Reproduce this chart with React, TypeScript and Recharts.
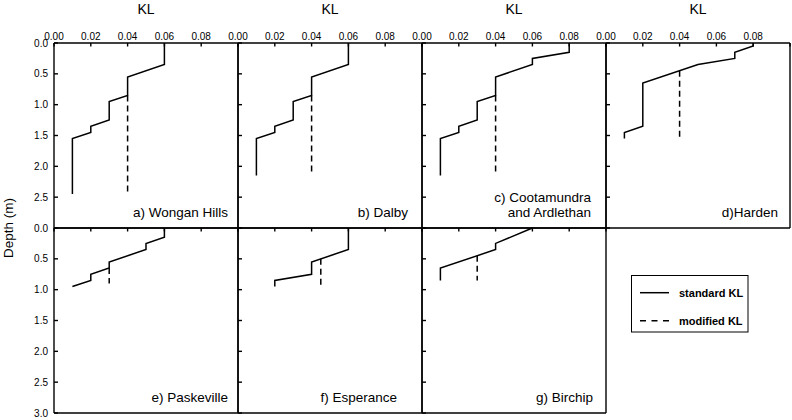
import { Label, Legend, Scatter, ScatterChart, XAxis, YAxis } from "recharts";

// KL vs depth profiles for seven sites, one small panel per site (2 x 4 grid).
// Each profile: KL values and the depths (m) they sit at, in drawing order.

const wonganKL = [0.06, 0.06, 0.04, 0.04, 0.03, 0.03, 0.02, 0.02, 0.01, 0.01];
const wonganDepth = [0, 0.35, 0.55, 0.85, 0.95, 1.25, 1.35, 1.45, 1.55, 2.45];
const wonganModKL = [0.04, 0.04];
const wonganModDepth = [0.85, 2.45];

const dalbyKL = [0.06, 0.06, 0.04, 0.04, 0.03, 0.03, 0.02, 0.02, 0.01, 0.01];
const dalbyDepth = [0, 0.35, 0.55, 0.85, 0.95, 1.25, 1.35, 1.45, 1.55, 2.15];
const dalbyModKL = [0.04, 0.04];
const dalbyModDepth = [0.85, 2.15];

const cootaKL = [0.08, 0.08, 0.06, 0.06, 0.04, 0.04, 0.03, 0.03, 0.02, 0.02, 0.01, 0.01];
const cootaDepth = [0, 0.15, 0.25, 0.35, 0.55, 0.85, 0.95, 1.25, 1.35, 1.45, 1.55, 2.15];
const cootaModKL = [0.04, 0.04];
const cootaModDepth = [0.85, 2.15];

const hardenKL = [0.08, 0.08, 0.07, 0.07, 0.05, 0.02, 0.02, 0.01, 0.01];
const hardenDepth = [0, 0.05, 0.15, 0.25, 0.35, 0.65, 1.35, 1.45, 1.55];
const hardenModKL = [0.04, 0.04];
const hardenModDepth = [0.45, 1.55];

const paskeKL = [0.06, 0.06, 0.05, 0.05, 0.03, 0.03, 0.02, 0.02, 0.01];
const paskeDepth = [0, 0.15, 0.25, 0.35, 0.55, 0.65, 0.75, 0.85, 0.95];
const paskeModKL = [0.03, 0.03];
const paskeModDepth = [0.65, 0.9];

const esperKL = [0.06, 0.06, 0.04, 0.04, 0.02, 0.02];
const esperDepth = [0, 0.35, 0.55, 0.75, 0.85, 0.95];
const esperModKL = [0.045, 0.045];
const esperModDepth = [0.5, 0.95];

const birchKL = [0.06, 0.04, 0.04, 0.01, 0.01];
const birchDepth = [0, 0.25, 0.35, 0.65, 0.85];
const birchModKL = [0.03, 0.03];
const birchModDepth = [0.45, 0.85];

const klTicks = [0, 0.02, 0.04, 0.06, 0.08, 0.1];
const depthTicks = [0, 0.5, 1, 1.5, 2, 2.5, 3];
const seriesNames = ["standard KL", "modified KL"];

const FONT = '"Liberation Sans", Arial, Helvetica, sans-serif';
const W = 792;
const H = 420;
const COL_X = [54, 238, 422, 606];
const ROW_Y = [43, 228];
const PW = 184;
const PH = 185;
const axisStroke = { stroke: "#000", strokeWidth: 1.4 };

const pts = (kl: number[], depth: number[]) => kl.map((k, i) => ({ kl: k, depth: depth[i] }));

type PanelDef = {
  title: string[];
  col: number;
  row: number;
  std: { kl: number; depth: number }[];
  mod: { kl: number; depth: number }[];
  dx: number; // title offset from panel right edge
  rightTicks?: boolean;
  legend?: boolean;
};

const panels: PanelDef[] = [
  { title: ["a) Wongan Hills"], col: 0, row: 0, std: pts(wonganKL, wonganDepth), mod: pts(wonganModKL, wonganModDepth), dx: 10 },
  { title: ["b) Dalby"], col: 1, row: 0, std: pts(dalbyKL, dalbyDepth), mod: pts(dalbyModKL, dalbyModDepth), dx: 14 },
  { title: ["c) Cootamundra", "and Ardlethan"], col: 2, row: 0, std: pts(cootaKL, cootaDepth), mod: pts(cootaModKL, cootaModDepth), dx: 15 },
  { title: ["d)Harden"], col: 3, row: 0, std: pts(hardenKL, hardenDepth), mod: pts(hardenModKL, hardenModDepth), dx: 12 },
  { title: ["e) Paskeville"], col: 0, row: 1, std: pts(paskeKL, paskeDepth), mod: pts(paskeModKL, paskeModDepth), dx: 10 },
  { title: ["f) Esperance"], col: 1, row: 1, std: pts(esperKL, esperDepth), mod: pts(esperModKL, esperModDepth), dx: 25 },
  { title: ["g) Birchip"], col: 2, row: 1, std: pts(birchKL, birchDepth), mod: pts(birchModKL, birchModDepth), dx: 13, rightTicks: true, legend: true },
];

const renderLegend = (props: any) => {
  const items = [...(props.payload ?? [])].sort(
    (a: any, b: any) => seriesNames.indexOf(a.value) - seriesNames.indexOf(b.value)
  );
  return (
    <svg width={118} height={58} style={{ display: "block", fontFamily: FONT }}>
      <rect x={0.5} y={0.5} width={116.5} height={56.5} fill="#fff" stroke="#000" strokeWidth={1} />
      {items.map((it: any, i: number) => (
        <g key={i}>
          <line
            x1={9}
            x2={38}
            y1={17.7 + i * 28}
            y2={17.7 + i * 28}
            stroke="#000"
            strokeWidth={1.5}
            strokeDasharray={it.value === "modified KL" ? "6 5.5" : undefined}
          />
          <text x={48} y={21.7 + i * 28.3} fontSize={11} fontWeight="bold" fill="#000">
            {it.value}
          </text>
        </g>
      ))}
    </svg>
  );
};

function Panel({ p }: { p: PanelDef }) {
  const x0 = COL_X[p.col];
  const y0 = ROW_Y[p.row];
  const top = p.row === 0;
  const first = p.col === 0;
  const margin = { left: x0 - 1, top: y0 - 1, right: W - (x0 + PW) - 1, bottom: H - (y0 + PH) - 1 };
  const tickFont = { fontSize: 10, fill: "#000", fontFamily: FONT };

  return (
    <div style={{ position: "absolute", left: 0, top: 0 }}>
      <ScatterChart width={W} height={H} margin={margin}>
        <XAxis
          xAxisId="t"
          orientation="top"
          type="number"
          dataKey="kl"
          domain={[0, 0.1]}
          ticks={klTicks}
          interval={0}
          height={1}
          tickSize={-3.5}
          tickMargin={6.5}
          axisLine={axisStroke}
          tickLine={axisStroke}
          tick={tickFont}
          tickFormatter={(v: number) => (top && v < 0.095 ? v.toFixed(2) : "")}
        >
          {top && (
            <Label
              content={() => (
                <text x={x0 + PW / 2} y={14} textAnchor="middle" fontSize={14} fontFamily={FONT} fill="#000">
                  KL
                </text>
              )}
            />
          )}
        </XAxis>
        <XAxis xAxisId="b" orientation="bottom" type="number" domain={[0, 0.1]} height={1} tick={false} tickLine={false} axisLine={axisStroke}>
          <Label
            content={() => (
              <text textAnchor="end" fontSize={13.5} fontFamily={FONT} fill="#000">
                {p.title.map((t, i) => (
                  <tspan key={i} x={x0 + PW - p.dx} y={y0 + PH - 11.5 - (p.title.length - 1 - i) * 14.5}>
                    {t}
                  </tspan>
                ))}
              </text>
            )}
          />
        </XAxis>
        <YAxis
          yAxisId="l"
          orientation="left"
          type="number"
          dataKey="depth"
          domain={[0, 3]}
          reversed
          ticks={depthTicks}
          interval={0}
          width={1}
          tickSize={-4}
          tickMargin={10}
          axisLine={axisStroke}
          tickLine={axisStroke}
          tick={tickFont}
          tickFormatter={(v: number) => (first && !(top && v === 3) ? v.toFixed(1) : "")}
        >
          {first && top && (
            <Label
              content={() => (
                <text
                  x={13}
                  y={228}
                  textAnchor="middle"
                  fontSize={13.5}
                  fontFamily={FONT}
                  fill="#000"
                  transform="rotate(-90 13 228)"
                >
                  Depth (m)
                </text>
              )}
            />
          )}
        </YAxis>
        <YAxis
          yAxisId="r"
          orientation="right"
          type="number"
          domain={[0, 3]}
          reversed
          ticks={depthTicks}
          interval={0}
          width={1}
          tickSize={-4}
          axisLine={axisStroke}
          tickLine={p.rightTicks ? axisStroke : false}
          tick={false}
        />
        <Scatter
          name={seriesNames[0]}
          data={p.std}
          xAxisId="t"
          yAxisId="l"
          fill="#000"
          line={{ stroke: "#000", strokeWidth: 1.5 }}
          shape={() => <g />}
          isAnimationActive={false}
        />
        <Scatter
          name={seriesNames[1]}
          data={p.mod}
          xAxisId="t"
          yAxisId="l"
          fill="#000"
          line={{ stroke: "#000", strokeWidth: 1.5, strokeDasharray: "6 4" }}
          shape={() => <g />}
          isAnimationActive={false}
        />
        {p.legend && (
          <Legend
            layout="horizontal"
            align="center"
            verticalAlign="middle"
            content={renderLegend}
            wrapperStyle={{ left: 631, top: 275, width: 118, height: 58 }}
          />
        )}
      </ScatterChart>
    </div>
  );
}

export default function App() {
  return (
    <div style={{ position: "absolute", left: 0, top: 0, width: W, height: H, background: "#fff", fontFamily: FONT }}>
      {panels.map((p) => (
        <Panel key={p.title[0]} p={p} />
      ))}
    </div>
  );
}
